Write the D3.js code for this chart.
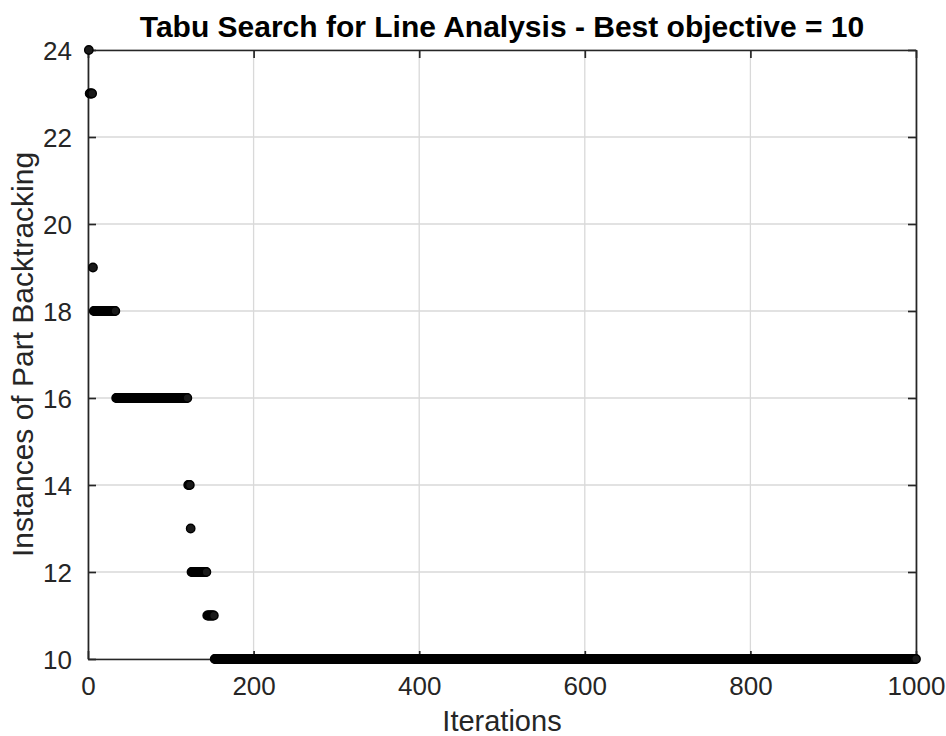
<!DOCTYPE html>
<html><head><meta charset="utf-8">
<script src="https://cdn.jsdelivr.net/npm/d3@7"></script>
<style>
html,body{margin:0;padding:0;background:#fff;}
text{font-family:"Liberation Sans",Arial,Helvetica,sans-serif;}
</style></head>
<body><svg id="chart" width="946" height="736"></svg>
<script>
// Run-length data: each run covers iterations runStart..runEnd with objective runValue
const runStart = [1, 2, 6, 7, 34, 121, 124, 125, 144, 153];
const runEnd   = [1, 5, 6, 33, 120, 123, 124, 143, 152, 1000];
const runValue = [24, 23, 19, 18, 16, 14, 13, 12, 11, 10];
const xTicks = [0, 200, 400, 600, 800, 1000];
const yTicks = [10, 12, 14, 16, 18, 20, 22, 24];
const titleText = "Tabu Search for Line Analysis - Best objective = 10";
const xLabel = "Iterations";
const yLabel = "Instances of Part Backtracking";

const points = [];
runStart.forEach((s, i) => {
  for (let it = s; it <= runEnd[i]; it++) points.push({iter: it, val: runValue[i]});
});

const svg = d3.select("#chart");
const L = 88, R = 916, T = 50, B = 659;
const x = d3.scaleLinear().domain([0, 1000]).range([L, R]);
const y = d3.scaleLinear().domain([10, 24]).range([B, T]);
const axisCol = "#262626";

// grid
const grid = svg.append("g");
grid.selectAll("line.gx").data(xTicks).join("line")
  .attr("x1", d => x(d)).attr("x2", d => x(d)).attr("y1", T).attr("y2", B)
  .attr("stroke", "#d9d9d9").attr("stroke-width", 1.3);
grid.selectAll("line.gy").data(yTicks).join("line")
  .attr("y1", d => y(d)).attr("y2", d => y(d)).attr("x1", L).attr("x2", R)
  .attr("stroke", "#d9d9d9").attr("stroke-width", 1.3);

// axes
const fs = 26;
const fmt = d3.format("d");
const xAxis = d3.axisBottom(x).tickValues(xTicks).tickFormat(fmt).tickSizeInner(-8).tickSizeOuter(0).tickPadding(18);
const yAxis = d3.axisLeft(y).tickValues(yTicks).tickFormat(fmt).tickSizeInner(-8).tickSizeOuter(0).tickPadding(16);
const gx = svg.append("g").attr("transform", `translate(0,${B})`).call(xAxis);
const gy = svg.append("g").attr("transform", `translate(${L},0)`).call(yAxis);
const gxt = svg.append("g").attr("transform", `translate(0,${T})`).call(d3.axisTop(x).tickValues(xTicks).tickSizeInner(-8).tickSizeOuter(0).tickFormat(""));
const gyr = svg.append("g").attr("transform", `translate(${R},0)`).call(d3.axisRight(y).tickValues(yTicks).tickSizeInner(-8).tickSizeOuter(0).tickFormat(""));
[gx, gy, gxt, gyr].forEach(g => {
  g.select(".domain").attr("stroke", axisCol).attr("stroke-width", 1.7);
  g.selectAll(".tick line").attr("stroke", axisCol).attr("stroke-width", 1.7);
  g.selectAll(".tick text").attr("fill", axisCol).attr("font-size", fs)
    .attr("font-family", '"Liberation Sans",Arial,sans-serif');
});
gx.selectAll(".tick text").attr("dy", "0.71em");
gy.selectAll(".tick text").attr("dy", "0.35em");

// points
svg.append("g").selectAll("circle").data(points).join("circle")
  .attr("cx", d => x(d.iter)).attr("cy", d => y(d.val)).attr("r", 4.2)
  .attr("fill", "#1a1a1a").attr("stroke", "#000").attr("stroke-width", 1.4);

// title & labels
svg.append("text").attr("x", (L + R) / 2).attr("y", 37).attr("text-anchor", "middle")
  .attr("font-size", 30).attr("font-weight", "bold").attr("fill", "#000").text(titleText);
svg.append("text").attr("x", (L + R) / 2).attr("y", 731).attr("text-anchor", "middle")
  .attr("font-size", 29).attr("fill", axisCol).text(xLabel);
svg.append("text").attr("transform", `translate(33,${(T + B) / 2}) rotate(-90)`).attr("text-anchor", "middle")
  .attr("font-size", 30).attr("fill", axisCol).text(yLabel);
</script></body></html>
